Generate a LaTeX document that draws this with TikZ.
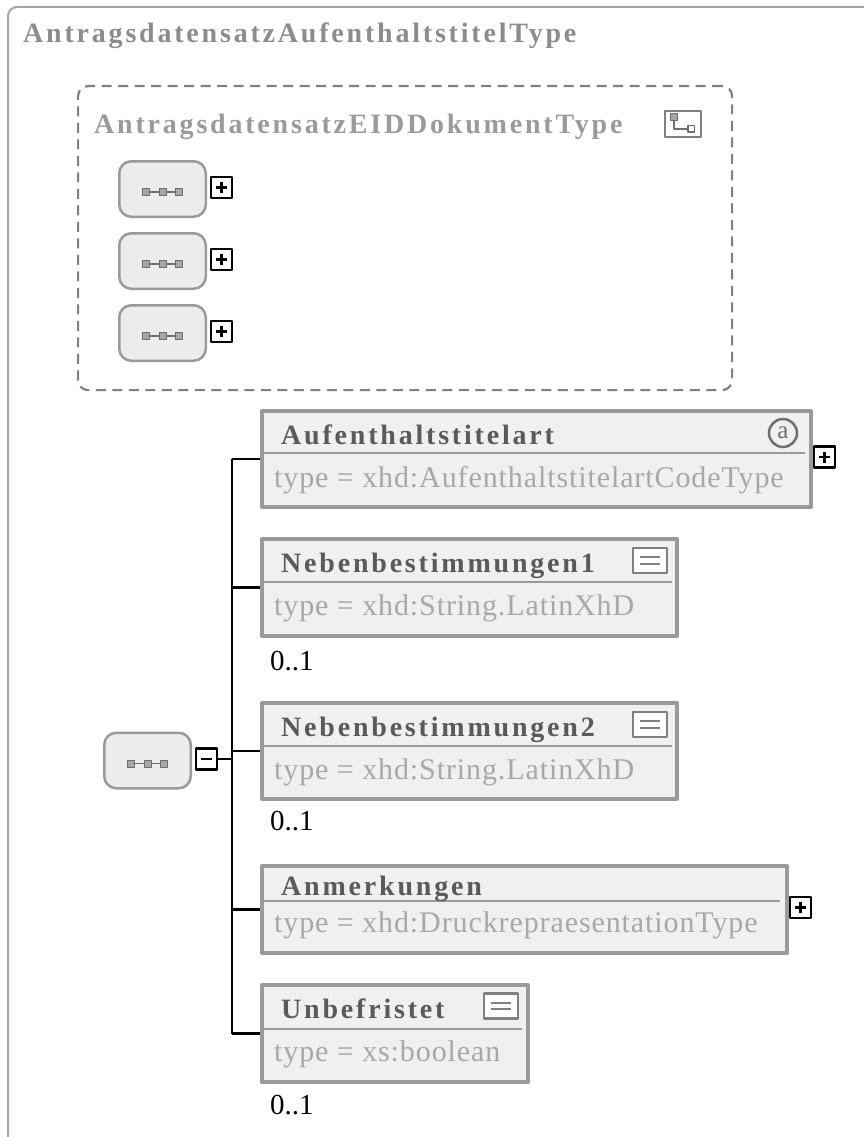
\documentclass[tikz,border=0pt]{standalone}
\usepackage{fontspec}
\setmainfont{Liberation Serif}
\newfontfamily\namefont[LetterSpace=10]{Liberation Serif}
\newfontfamily\typefont[LetterSpace=3]{Liberation Serif}
\usetikzlibrary{positioning}
\definecolor{framegray}{HTML}{A6A6A6}
\definecolor{titlegray}{HTML}{8C8C8C}
\definecolor{elemgray}{HTML}{9A9A9A}
\definecolor{elemfill}{HTML}{F0F0F0}
\definecolor{namegray}{HTML}{5A5A5A}
\definecolor{typegray}{HTML}{A8A8A8}
\definecolor{seqfill}{HTML}{ECECEC}
\definecolor{icongray}{HTML}{808080}
\definecolor{dotgray}{HTML}{6E6E6E}

\begin{document}
\begin{tikzpicture}[x=1pt, y=-1pt, line join=round,
    frame/.style={draw=framegray, line width=2pt},
    outertitle/.style={anchor=base west, inner sep=0pt, text=titlegray, font=\namefont\bfseries\fontsize{28}{32}\selectfont},
    groupbox/.style={draw=icongray, line width=2.2pt, dash pattern=on 10pt off 6.5pt, rounded corners=10pt, anchor=north west, inner sep=0pt},
    grouptitle/.style={anchor=base west, inner sep=0pt, text=elemgray, font=\namefont\bfseries\fontsize{28}{32}\selectfont},
    elem/.style={draw=elemgray, line width=4pt, fill=elemfill, anchor=north west, inner sep=0pt},
    sepline/.style={draw=elemgray, line width=2pt},
    nametext/.style={anchor=base west, inner sep=0pt, text=namegray, font=\namefont\bfseries\fontsize{28}{32}\selectfont},
    typetext/.style={anchor=base west, inner sep=0pt, text=typegray, font=\typefont\fontsize{30}{36}\selectfont},
    occ/.style={anchor=base west, inner sep=0pt, font=\fontsize{29}{34}\selectfont},
    seq/.style={draw=elemgray, line width=2.5pt, fill=seqfill, rounded corners=12pt, minimum width=86.5pt, minimum height=55.5pt, inner sep=0pt},
    seqdot/.style={draw=dotgray, line width=1pt, fill=gray!70, minimum size=7pt, inner sep=0pt},
    pm/.style={draw=black, line width=2.2pt, fill=white, minimum size=21pt, inner sep=0pt, anchor=west},
    pmsign/.style={draw=black, line width=2.5pt},
    conn/.style={draw=black, line width=2.5pt},
    simpleicon/.style={draw=icongray, line width=2.2pt, fill=white, minimum width=34pt, minimum height=25pt, inner sep=0pt},
    attricon/.style={circle, draw=dotgray, line width=2.5pt, fill=elemfill, text=dotgray, minimum size=28pt, inner sep=0pt, font=\fontsize{25}{25}\selectfont},
    typeicon/.style={draw=icongray, line width=2.2pt, fill=white, minimum width=36pt, minimum height=26pt, inner sep=0pt}]

\useasboundingbox (0,0) rectangle (864,1137);
\clip (0,0) rectangle (864,1137);

% outer complex type
\draw[frame, rounded corners=9pt] (8,1160) |- (900,7);
\node[outertitle] (title) at (23,43) {AntragsdatensatzAufenthaltstitelType};

% base type
\node[groupbox, minimum width=654pt, minimum height=304pt] (eid) at (77,85) {};
\node[grouptitle] (eid-title) at (94,134) {AntragsdatensatzEIDDokumentType};
\node[typeicon] (eid-icon) at (683,124) {};
\draw[dotgray, line width=2pt] ([shift={(-9,-6)}]eid-icon.center) |- ([shift={(6,5)}]eid-icon.center);
\node[seqdot] at ([shift={(-9,-7)}]eid-icon.center) {};
\node[draw=dotgray, line width=1.5pt, fill=white, minimum size=6.5pt, inner sep=0pt] at ([shift={(8,5)}]eid-icon.center) {};

\node[seq] (seqA) at (162.5,189) {};
\node[seq] (seqB) at (162.5,261) {};
\node[seq] (seqC) at (162.5,333) {};
\node[seq] (seqMain) at (147.5,760.5) {};
\foreach \s in {seqA,seqB,seqC,seqMain} {
    \draw[dotgray, line width=1.5pt] ([shift={(-16.5,3)}]\s.center) -- ([shift={(16.5,3)}]\s.center);
    \foreach \dx in {-16.5,0,16.5}
        \node[seqdot] at ([shift={(\dx,3)}]\s.center) {};
}
\foreach \s in {seqA,seqB,seqC} {
    \node[pm] (\s-plus) at ([xshift=3pt,yshift=1.5pt]\s.east) {};
    \draw[pmsign] ([xshift=-5.5pt]\s-plus.center) -- ([xshift=5.5pt]\s-plus.center);
    \draw[pmsign] ([yshift=-5.5pt]\s-plus.center) -- ([yshift=5.5pt]\s-plus.center);
}
\node[pm] (minus) at ([xshift=3.25pt,yshift=1.5pt]seqMain.east) {};
\draw[pmsign] ([xshift=-5.5pt]minus.center) -- ([xshift=5.5pt]minus.center);

% elements
\node[elem, minimum width=549pt, minimum height=96pt] (aufenth) at (260,409) {};
\node[elem, minimum width=415pt, minimum height=97pt] (neb1) at (260,537) {};
\node[elem, minimum width=415pt, minimum height=96pt] (neb2) at (260,701) {};
\node[elem, minimum width=525pt, minimum height=87pt] (anm) at (260,864) {};
\node[elem, minimum width=266pt, minimum height=97pt] (unbef) at (260,983) {};

\draw[sepline] (262,453) -- (805,453);
\draw[sepline] (262,582) -- (672,582);
\draw[sepline] (262,746) -- (672,746);
\draw[sepline] (262,901) -- (780,901);
\draw[sepline] (262,1029) -- (522,1029);

\node[nametext] (aufenth-name) at (281,444) {Aufenthaltstitelart};
\node[typetext] (aufenth-type) at (274,487) {type = xhd:AufenthaltstitelartCodeType};
\node[nametext] (neb1-name) at (281,572) {Nebenbestimmungen1};
\node[typetext] (neb1-type) at (274,615) {type = xhd:String.LatinXhD};
\node[nametext] (neb2-name) at (281,736) {Nebenbestimmungen2};
\node[typetext] (neb2-type) at (274,779) {type = xhd:String.LatinXhD};
\node[nametext] (anm-name) at (281,895) {Anmerkungen};
\node[typetext] (anm-type) at (274,932) {type = xhd:DruckrepraesentationType};
\node[nametext] (unbef-name) at (281,1018) {Unbefristet};
\node[typetext] (unbef-type) at (274,1061) {type = xs:boolean};

\node[attricon] (aufenth-attr) at (783,433) {a};
\node[simpleicon] (neb1-icon) at (650,560.5) {};
\node[simpleicon] (neb2-icon) at (650,724.5) {};
\node[simpleicon] (unbef-icon) at (501,1006) {};
\foreach \i in {neb1-icon,neb2-icon,unbef-icon} {
    \draw[icongray, line width=2pt] ([shift={(-10,-3.5)}]\i.center) -- ([shift={(10,-3.5)}]\i.center);
    \draw[icongray, line width=2pt] ([shift={(-10,3)}]\i.center) -- ([shift={(10,3)}]\i.center);
}

\foreach \e in {aufenth,anm} {
    \node[pm] (\e-plus) at ([yshift=2pt]\e.east) {};
    \draw[pmsign] ([xshift=-5.5pt]\e-plus.center) -- ([xshift=5.5pt]\e-plus.center);
    \draw[pmsign] ([yshift=-5.5pt]\e-plus.center) -- ([yshift=5.5pt]\e-plus.center);
}

\node[occ] (neb1-occ) at ([shift={(10,32)}]neb1.south west) {0..1};
\node[occ] (neb2-occ) at ([shift={(10,29)}]neb2.south west) {0..1};
\node[occ] (unbef-occ) at ([shift={(10,30)}]unbef.south west) {0..1};

% connectors
\coordinate (trunk) at (232,0);
\draw[conn] (minus.east) -- (minus.east -| trunk);
\draw[conn] (aufenth.west -| trunk) -- (unbef.west -| trunk);
\foreach \e in {aufenth,neb1,neb2,anm,unbef}
    \draw[conn] (\e.west -| trunk) -- (\e.west);
\end{tikzpicture}
\end{document}
